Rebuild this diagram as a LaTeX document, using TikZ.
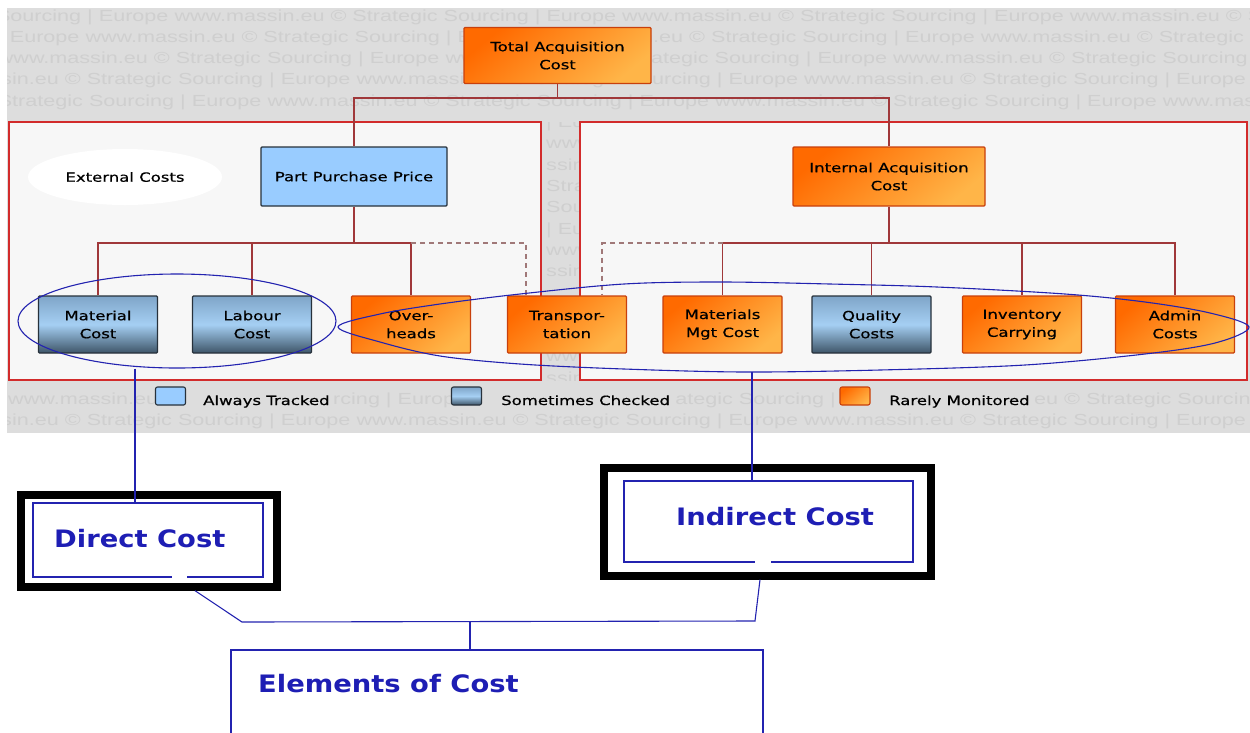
\documentclass[tikz,border=0pt]{standalone}
\usepackage{fontspec}
\newfontfamily\lblfont[FakeStretch=1.3,FakeBold=0.6]{DejaVu Sans}
\newfontfamily\wmfont[FakeStretch=1.35]{Liberation Sans}
\newfontfamily\bigfont[FakeStretch=1.14]{DejaVu Sans}
\usetikzlibrary{shapes.geometric}
\definecolor{bgG}{HTML}{DDDDDD}
\definecolor{wmG}{HTML}{CFCFCF}
\definecolor{frameR}{HTML}{D22B2B}
\definecolor{innerW}{HTML}{F7F7F7}
\definecolor{connR}{HTML}{A0383A}
\definecolor{dashR}{HTML}{A07878}
\definecolor{orD}{HTML}{FF6A00}
\definecolor{orL}{HTML}{FFB548}
\definecolor{orB}{HTML}{C8400C}
\definecolor{ltB}{HTML}{99CCFF}
\definecolor{bxK}{HTML}{27313B}
\definecolor{gbT}{HTML}{7FA5C8}
\definecolor{gbM}{HTML}{A5CFF3}
\definecolor{gbB}{HTML}{3E5568}
\definecolor{blL}{HTML}{2323B0}
\definecolor{txB}{HTML}{1E1EB4}
\def\wmrow{Europe www.massin.eu © Strategic Sourcing | Europe www.massin.eu © Strategic Sourcing | Europe www.massin.eu © Strategic Sourcing | Europe www.massin.eu © Strategic Sourcing | Europe www.massin.eu © Strategic Sourcing |}
\begin{document}
\begin{tikzpicture}[x=1pt,y=-1pt,
 lbl/.style={font=\lblfont\fontsize{12.7}{18}\selectfont, align=center, text=black, inner sep=0pt},
 box/.style={lbl, minimum width=119pt, minimum height=57pt, line width=1.1pt, rounded corners=1pt},
 orbox/.style={box, draw=orB, top color=orD, bottom color=orL, shading angle=40},
 gbbox/.style={box, draw=bxK, top color=gbT, bottom color=gbB, middle color=gbM},
 lbbox/.style={box, draw=bxK, fill=ltB},
 leg/.style={minimum width=30pt, minimum height=18pt, inner sep=0pt, line width=1.1pt, rounded corners=2pt},
 conn/.style={draw=connR, line width=1.1pt},
 dconn/.style={draw=dashR, line width=1.1pt, dash pattern=on 5pt off 4pt},
 bl/.style={draw=blL, line width=1.1pt},
 frame/.style={draw=frameR, line width=2pt, fill=innerW},
 wm/.style={font=\wmfont\fontsize{16}{16}\selectfont, text=wmG, inner sep=0pt},
 big/.style={font=\bigfont\bfseries\fontsize{24}{28}\selectfont, text=txB, inner sep=0pt},
 inbox/.style={draw=blL, line width=1.3pt, inner sep=0pt},
 kframe/.style={draw=black, line width=8pt},
 legtxt/.style={lbl, anchor=base west}
]
\useasboundingbox (0,0) rectangle (1250,732);
\fill[white] (0,0) rectangle (1250,732);
\fill[bgG] (7,8) rectangle (1250,433);
% watermark: visible full rows
\begin{scope}
\clip (7,8) rectangle (1250,433);
\foreach \k/\j in {0/0,1/1,2/2,3/3,4/4,19/3}{
  \pgfmathsetmacro\sx{Mod(100-89*\j,449)-449}
  \node[wm, anchor=base west] (wm\k) at ({\sx},{21+21.3*\k}) {\wmrow};
}
% legend row: pieces between the legend items
\node[wm, anchor=base west] (wl1) at (8,404.4) {www.massin.eu};
\node[wm, anchor=base west] (wl4) at (1034,404.4) {eu © Strategic Sourcing};
\end{scope}
\begin{scope}
\clip (333,380) rectangle (450,433);
\node[wm, anchor=base west] (wl2) at (333,404.4) {rcing | Europe};
\end{scope}
\node[wm, anchor=base east] (wl3) at (836,404.4) {ategic Sourcing |};
% watermark: fragments between the two frames
\begin{scope}
\clip (542,122) rectangle (578,380);
\foreach \k/\t in {5/{| Eu},6/{www},7/{ssin},8/{Strat},9/{Sour},10/{| Eu},11/{www},12/{ssin},16/{www},17/{ssin}}{
  \node[wm, anchor=base west] (wg\k) at (546,{21+21.3*\k}) {\t};
}
\end{scope}
% group frames
\draw[frame] (9,122) rectangle (541,380);
\draw[frame] (580,122) rectangle (1247,380);
\node[ellipse, fill=white, minimum width=194pt, minimum height=56pt, lbl] (ext) at (125,177) {External Costs};
% boxes
\node[orbox, minimum width=187pt, minimum height=56pt] (tac) at (557.5,55.5) {Total Acquisition\\Cost};
\node[lbbox, minimum width=186pt, minimum height=59pt] (ppp) at (354,176.5) {Part Purchase Price};
\node[orbox, minimum width=192pt, minimum height=59pt] (iac) at (889,176.5) {Internal Acquisition\\Cost};
\node[gbbox] (mat) at (98,324.5) {Material\\Cost};
\node[gbbox] (lab) at (252,324.5) {Labour\\Cost};
\node[orbox] (ovh) at (411,324.5) {Over-\\heads};
\node[orbox] (trn) at (567,324.5) {Transpor-\\tation};
\node[orbox] (mmc) at (722.5,324.5) {Materials\\Mgt Cost};
\node[gbbox] (qc) at (871.5,324.5) {Quality\\Costs};
\node[orbox] (inv) at (1022,324.5) {Inventory\\Carrying};
\node[orbox] (adm) at (1175,324.5) {Admin\\Costs};
% tree connectors
\coordinate (b1) at (557.5,98);
\draw[conn] (tac.south) -- (b1);
\draw[conn] (ppp.north) |- (b1) -| (iac.north);
\coordinate (b2) at (354,243);
\draw[conn] (ppp.south) -- (b2);
\draw[conn] (mat.north) |- (b2) -| (ovh.north);
\draw[conn] (lab.north) -- (lab.north |- b2);
\draw[dconn] (ovh.north |- b2) -| ([xshift=-41pt]trn.north);
\coordinate (b3) at (889,243);
\draw[conn] (iac.south) -- (b3);
\draw[conn] (mmc.north) |- (b3) -| (adm.north);
\draw[conn] (qc.north) -- (qc.north |- b3);
\draw[conn] (inv.north) -- (inv.north |- b3);
\draw[dconn] (mmc.north |- b3) -| ([xshift=35pt]trn.north);
% blue ellipses
\node[ellipse, bl, minimum width=318pt, minimum height=94pt, inner sep=0pt] (lell) at (177,321) {};
\draw[bl] plot[smooth cycle, tension=0.55] coordinates {(338,327) (380,314) (440,304) (520,294) (624,284) (721,282) (830,284) (937,287) (1065,294) (1145,302) (1210,313) (1249,327) (1215,343) (1145,354) (1025,365) (880,370) (745,372) (624,369) (520,364) (440,356) (380,342)};
\coordinate (rellb) at (752,372);
% legend
\node[leg, draw=bxK, fill=ltB] (lg1) at (170.5,396) {};
\node[leg, draw=bxK, top color=gbT, bottom color=gbB, middle color=gbM] (lg2) at (466.5,396) {};
\node[leg, draw=orB, top color=orD, bottom color=orL, shading angle=40] (lg3) at (855,396) {};
\node[legtxt] (lt1) at (203,405) {Always Tracked};
\node[legtxt] (lt2) at (501,405) {Sometimes Checked};
\node[legtxt] (lt3) at (889,405) {Rarely Monitored};
% bottom part
\node[inbox, minimum width=230pt, minimum height=74pt] (dc) at (148,540) {};
\draw[kframe] ([xshift=-11pt,yshift=7pt]dc.north west) rectangle ([xshift=13pt,yshift=-9pt]dc.south east);
\draw[white, line width=3pt] ([xshift=24pt]dc.south) -- ([xshift=39pt]dc.south);
\node[big, anchor=base west] (dct) at (54,547) {Direct Cost};
\node[inbox, minimum width=289pt, minimum height=81pt] (ic) at (768.5,521.5) {};
\draw[kframe] ([xshift=-19pt,yshift=12pt]ic.north west) rectangle ([xshift=17pt,yshift=-13pt]ic.south east);
\draw[white, line width=3pt] ([xshift=-13.5pt]ic.south) -- ([xshift=2.5pt]ic.south);
\node[big, anchor=base west] (ict) at (676,525) {Indirect Cost};
\node[inbox, minimum width=532pt, minimum height=180pt] (el) at (497,740) {};
\node[big, anchor=base west] (elt) at (258,692) {Elements of Cost};
% blue connectors
\draw[bl] ([xshift=-13pt]dc.north |- lell.south) -- ([xshift=-13pt]dc.north);
\draw[bl] (rellb) -- (rellb |- ic.north);
\coordinate (junc) at (470,622);
\draw[bl] ([xshift=47pt,yshift=-13pt]dc.south) -- (242,622) -- (755,621) -- ([xshift=-8.5pt,yshift=-17pt]ic.south);
\draw[bl] (junc) -- (junc |- el.north);
\end{tikzpicture}
\end{document}
